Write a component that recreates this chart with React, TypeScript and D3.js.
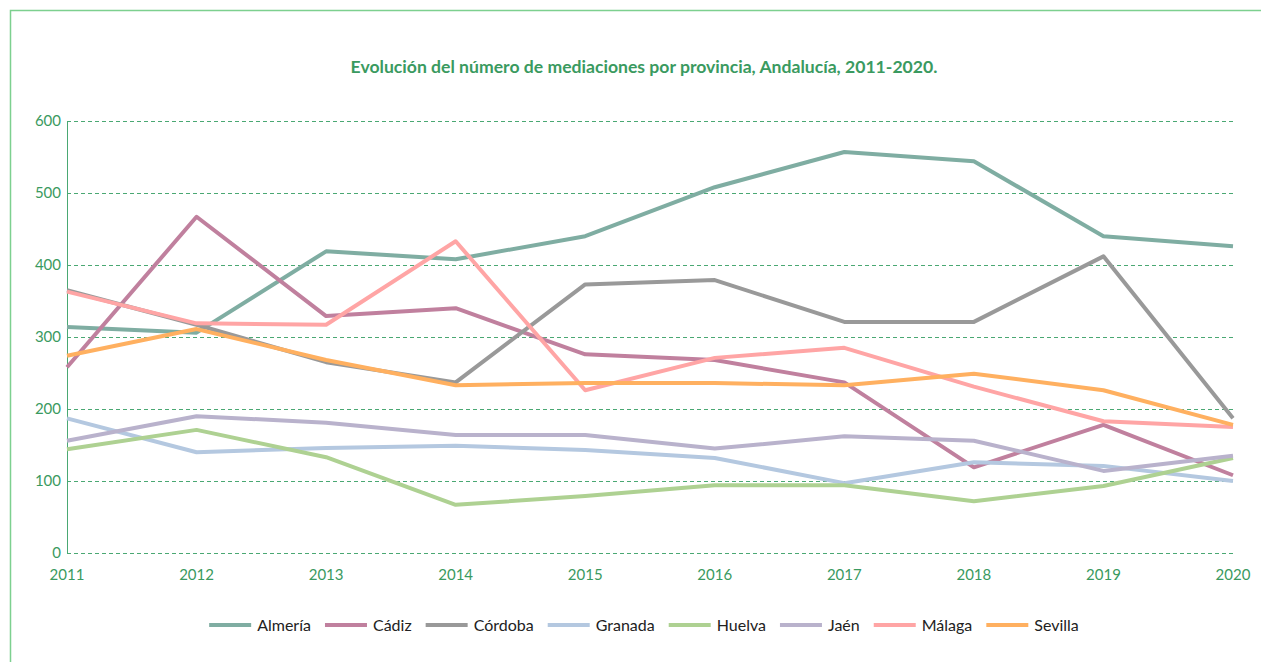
import React, { useEffect, useRef } from 'react';
import * as d3 from 'd3';

const years = [2011, 2012, 2013, 2014, 2015, 2016, 2017, 2018, 2019, 2020];
const provinces = ['Almería', 'Cádiz', 'Córdoba', 'Granada', 'Huelva', 'Jaén', 'Málaga', 'Sevilla'];
const colors = ['#7fada2', '#c0809e', '#999999', '#b4c8e0', '#aed192', '#b9b2cc', '#ffa5a5', '#ffb060'];

const almeria = [314, 306, 419, 408, 440, 508, 557, 544, 440, 426];
const cadiz = [258, 467, 329, 340, 276, 268, 237, 119, 178, 108];
const cordoba = [365, 317, 265, 237, 373, 379, 321, 321, 412, 187];
const granada = [187, 140, 146, 149, 143, 132, 97, 126, 121, 100];
const huelva = [144, 171, 133, 67, 79, 94, 94, 72, 93, 132];
const jaen = [156, 190, 181, 164, 164, 145, 162, 156, 114, 135];
const malaga = [363, 319, 317, 433, 226, 271, 285, 231, 183, 175];
const sevilla = [274, 311, 268, 233, 236, 236, 233, 249, 226, 178];
const series = [almeria, cadiz, cordoba, granada, huelva, jaen, malaga, sevilla];

const yTicks = [0, 100, 200, 300, 400, 500, 600];
const title = 'Evolución del número de mediaciones por provincia, Andalucía, 2011-2020.';

const W = 1261;
const H = 662;
const GREEN = '#3a9a60';

export default function App() {
  const svgRef = useRef<SVGSVGElement>(null);

  useEffect(() => {
    if (!svgRef.current) return;
    const svg = d3.select(svgRef.current);
    svg.selectAll('*').remove();

    const margin = { left: 67, right: 28, top: 121, bottom: 109 };
    const x = d3.scalePoint<number>().domain(years).range([margin.left, W - margin.right]);
    const y = d3.scaleLinear().domain([0, 600]).range([H - margin.bottom, margin.top]);

    // outer frame
    svg.append('rect')
      .attr('x', 10.5).attr('y', 10.5)
      .attr('width', W + 10).attr('height', H + 10)
      .attr('fill', 'none').attr('stroke', '#7dd08f').attr('stroke-width', 1.5);

    svg.append('text')
      .attr('x', 644).attr('y', 73)
      .attr('text-anchor', 'middle')
      .attr('font-family', 'Lato')
      .attr('font-weight', 'bold')
      .attr('font-size', 17.6)
      .attr('fill', GREEN)
      .text(title);

    // grid
    const grid = svg.append('g');
    grid.selectAll('line').data(yTicks).join('line')
      .attr('x1', margin.left).attr('x2', W - margin.right)
      .attr('y1', d => Math.round(y(d)) + 0.5).attr('y2', d => Math.round(y(d)) + 0.5)
      .attr('stroke', '#4aa873')
      .attr('stroke-dasharray', '4,3');

    svg.append('line')
      .attr('x1', margin.left + 0.5).attr('x2', margin.left + 0.5)
      .attr('y1', y(600)).attr('y2', y(0))
      .attr('stroke', '#4aa873');

    svg.append('g').selectAll('text').data(yTicks).join('text')
      .attr('x', margin.left - 6).attr('y', d => y(d))
      .attr('dy', '0.35em')
      .attr('text-anchor', 'end')
      .attr('font-family', 'Lato').attr('font-size', 15)
      .attr('fill', GREEN)
      .text(d => d);

    svg.append('g').selectAll('text').data(years).join('text')
      .attr('x', d => x(d)!).attr('y', y(0) + 22)
      .attr('dy', '0.35em')
      .attr('text-anchor', 'middle')
      .attr('font-family', 'Lato').attr('font-size', 15)
      .attr('fill', GREEN)
      .text(d => d);

    const line = d3.line<number>()
      .x((_, i) => x(years[i])!)
      .y(d => y(d));

    svg.append('g').selectAll('path').data(series).join('path')
      .attr('d', d => line(d))
      .attr('fill', 'none')
      .attr('stroke', (_, i) => colors[i])
      .attr('stroke-width', 4)
      .attr('stroke-linejoin', 'round');

    // legend
    const legend = svg.append('g');
    const swatch = 42;
    const gapText = 6;
    const gapItem = 14;
    const items = provinces.map((p, i) => {
      const g = legend.append('g');
      g.append('line')
        .attr('x1', 0).attr('x2', swatch)
        .attr('y1', 0).attr('y2', 0)
        .attr('stroke', colors[i]).attr('stroke-width', 4);
      const t = g.append('text')
        .attr('x', swatch + gapText).attr('dy', '0.35em')
        .attr('font-family', 'Lato').attr('font-size', 16)
        .attr('fill', '#222')
        .text(p);
      const w = swatch + gapText + (t.node() as SVGTextElement).getComputedTextLength();
      return { g, w };
    });
    const total = d3.sum(items, d => d.w) + gapItem * (items.length - 1);
    let cx = 644 - total / 2;
    items.forEach(it => {
      it.g.attr('transform', `translate(${cx},625)`);
      cx += it.w + gapItem;
    });
  }, []);

  return (
    <svg
      ref={svgRef}
      width={W}
      height={H}
      style={{ position: 'absolute', left: 0, top: 0, background: '#fff' }}
    />
  );
}
